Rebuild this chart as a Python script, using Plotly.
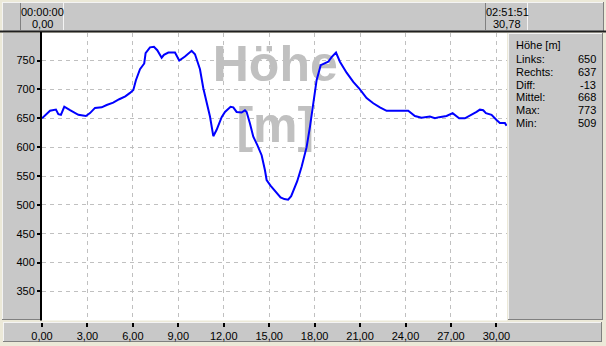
import plotly.graph_objects as go

# ---------------- data ----------------
km = [0, 0.53, 0.92, 1.08, 1.25, 1.47, 1.85, 2.18, 2.4, 2.9, 3.17, 3.5, 3.94, 4.27,
      4.7, 5.1, 5.5, 5.81, 6.03, 6.2, 6.47, 6.75, 6.84, 7.13, 7.39, 7.61, 7.9, 8.05,
      8.34, 8.78, 9.06, 9.44, 9.88, 10.1, 10.32, 10.43, 10.65, 10.87, 11.09, 11.31,
      11.53, 11.86, 12.08, 12.45, 12.63, 12.85, 13.18, 13.4, 13.51, 13.73, 13.95,
      14.21, 14.5, 14.72, 14.83, 15.1, 15.4, 15.75, 16.0, 16.25, 16.45, 16.65, 16.85,
      17.14, 17.47, 17.69, 17.91, 18.13, 18.4, 18.68, 18.9, 19.12, 19.41, 19.67,
      20.11, 20.55, 20.99, 21.43, 21.87, 22.31, 22.75, 23.63, 24.18, 24.62, 25.06,
      25.61, 25.94, 26.22, 26.71, 27.11, 27.54, 27.92, 28.36, 28.69, 28.91, 29.13,
      29.31, 29.68, 30.01, 30.23, 30.56, 30.67]
alt = [650, 663, 665, 657, 656, 670, 664, 660, 656, 654, 659, 668, 669, 673,
       677, 683, 688, 694, 699, 716, 735, 745, 763, 773, 774, 768, 755, 760,
       764, 764, 750, 757, 767, 761, 745, 735, 702, 679, 653, 619,
       630, 652, 661, 670, 669, 661, 660, 664, 661, 641, 618,
       604, 586, 560, 543, 533, 524, 513, 510, 509, 515, 527, 541,
       566, 600, 635, 676, 716, 742, 745, 748, 756, 764, 748,
       729, 713, 700, 685, 676, 669, 663, 663, 663, 654, 651,
       653, 650, 652, 654, 659, 650, 650, 656, 661, 665, 664,
       659, 656, 647, 642, 642, 637]

x_ticks = [0, 3, 6, 9, 12, 15, 18, 21, 24, 27, 30]
x_ticktext = ["0,00", "3,00", "6,00", "9,00", "12,00", "15,00", "18,00",
              "21,00", "24,00", "27,00", "30,00"]
y_ticks = [350, 400, 450, 500, 550, 600, 650, 700, 750]
y_ticktext = [str(v) for v in y_ticks]

stat_labels = ["Links:", "Rechts:", "Diff:", "Mittel:", "Max:", "Min:"]
stat_values = ["650", "637", "-13", "668", "773", "509"]
stat_title = "Höhe [m]"
top_left = ["00:00:00", "0,00"]
top_right = ["02:51:51", "30,78"]
watermark = ["<b>Höhe</b>", "<b>[m]</b>"]

# ---------------- layout helpers ----------------
W, H = 606, 346
def px(x):
    return x / W
def py(y):
    return 1 - y / H

GREY = "#c8c8c8"
DARK = "#808080"
LIGHT = "#f4f4f4"
BG = "#ece9d8"
FONT = "Liberation Sans"

fig = go.Figure()

# watermark (drawn below the curve)
fig.add_trace(go.Scatter(x=[15.4, 15.4], y=[737, 630], mode="text", text=watermark,
                         textposition="middle center",
                         textfont=dict(family=FONT, size=50, color="#c0c0c0"),
                         hoverinfo="skip", showlegend=False))

fig.add_trace(go.Scatter(x=km, y=alt, mode="lines",
                         line=dict(color="#0000ff", width=2),
                         showlegend=False, hoverinfo="skip"))

shapes = []
def rect(x0, y0, x1, y1, fill, layer="below"):
    shapes.append(dict(type="rect", xref="paper", yref="paper", layer=layer,
                       x0=px(x0), x1=px(x1), y0=py(y1), y1=py(y0),
                       fillcolor=fill, line=dict(width=0)))
def hline(x0, x1, y, color, w=1, layer="below"):
    shapes.append(dict(type="line", xref="paper", yref="paper", layer=layer,
                       x0=px(x0), x1=px(x1), y0=py(y), y1=py(y),
                       line=dict(color=color, width=w)))
def vline(x, y0, y1, color, w=1, layer="below"):
    shapes.append(dict(type="line", xref="paper", yref="paper", layer=layer,
                       x0=px(x), x1=px(x), y0=py(y0), y1=py(y1),
                       line=dict(color=color, width=w)))

# top bar
rect(2, 2, 604, 31, GREY)
hline(2, 604, 2.5, LIGHT)
vline(2.5, 2, 31, LIGHT)
vline(603.5, 2, 31, DARK)
for bx0, bx1 in [(20, 64), (485, 528)]:
    vline(bx0 + 0.5, 3, 30, DARK)
    vline(bx1 - 0.5, 3, 30, LIGHT)
hline(0, 606, 31.5, "#202020", 2)

# left panel
rect(2, 33, 40, 320, GREY)
vline(2.5, 33, 320, LIGHT)
hline(2, 40, 319.5, DARK)
vline(41, 32, 320.5, "#000000", 2)

# right panel
rect(508, 33, 603, 320, GREY)
vline(508.5, 33, 320, LIGHT)
hline(508, 603, 33.5, LIGHT)
vline(602.5, 33, 320, DARK)
hline(508, 603, 319.5, DARK)

# gap strip under the plot area (drawn above the plot background)
rect(42, 320.5, 507, 322, BG, layer="above")

# bottom bar
rect(3, 322, 602, 342, GREY)
hline(3, 602, 322.5, LIGHT)
vline(3.5, 322, 342, LIGHT)
vline(601.5, 322, 342, DARK)
hline(3, 602, 341.5, DARK)

annotations = []
def txt(x, y, s, anchor="center", size=11):
    annotations.append(dict(xref="paper", yref="paper", x=px(x), y=py(y), text=s,
                            showarrow=False, xanchor=anchor, yanchor="middle",
                            font=dict(family=FONT, size=size, color="#000000")))

txt(42, 12, top_left[0]); txt(42, 24, top_left[1])
txt(507, 12, top_right[0]); txt(507, 24, top_right[1])

txt(514, 45, stat_title, "left")
for i, (lab, val) in enumerate(zip(stat_labels, stat_values)):
    y = 59 + i * 12.8
    txt(514, y, lab, "left")
    txt(598, y, val, "right")

fig.update_layout(
    template="none",
    width=W, height=H, margin=dict(l=0, r=0, t=0, b=0, pad=0),
    paper_bgcolor=BG, plot_bgcolor="#ffffff",
    shapes=shapes, annotations=annotations,
    font=dict(family=FONT, size=11, color="#000000"),
    xaxis=dict(domain=[px(42), px(507)], range=[0, 30.7], automargin=False,
               tickvals=x_ticks, ticktext=x_ticktext,
               showgrid=True, gridcolor="#c0c0c0", griddash="4px,4px", gridwidth=1,
               ticks="outside", ticklen=4, tickwidth=2, tickcolor="#000000",
               zeroline=False, showline=False, ticklabelstandoff=0),
    yaxis=dict(domain=[py(322), py(33)], range=[297.0, 797.8], automargin=False,
               tickvals=y_ticks, ticktext=y_ticktext,
               showgrid=True, gridcolor="#c0c0c0", griddash="4px,4px", gridwidth=1,
               ticks="outside", ticklen=4, tickwidth=2, tickcolor="#000000",
               zeroline=False, showline=False),
)

fig.write_html("out.html")
